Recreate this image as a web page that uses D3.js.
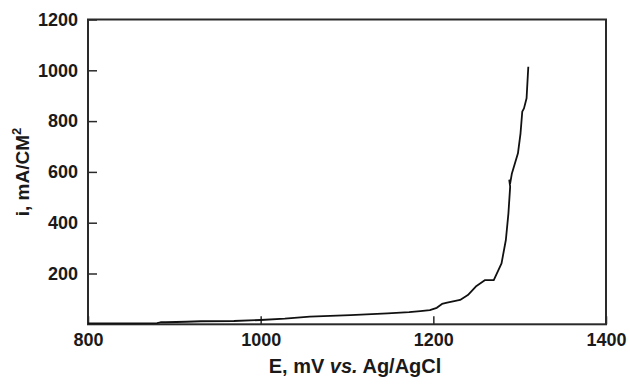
<!DOCTYPE html>
<html>
<head>
<meta charset="utf-8">
<script src="https://cdn.jsdelivr.net/npm/d3@7"></script>
<style>
  html, body { margin: 0; padding: 0; background: #fff; }
  svg { display: block; }
  text { font-family: "Liberation Sans", Arial, Helvetica, sans-serif; font-weight: bold; fill: #1a1a1a; }
</style>
</head>
<body>
<svg id="chart" width="630" height="385"></svg>
<script>
// Potential E (mV vs. Ag/AgCl)
const potential = [800, 850, 880, 884, 890, 914, 931, 969, 1000, 1028, 1057, 1104, 1147, 1172, 1185, 1196, 1204, 1210, 1216, 1231, 1240, 1250, 1260, 1270, 1279, 1284, 1287, 1289, 1288, 1289, 1291, 1298, 1301, 1303, 1305, 1308, 1310];
// Current density i (mA/cm²)
const current   = [4, 4, 5, 8, 8, 10, 12, 13, 17, 22, 30, 36, 43, 48, 52, 56, 65, 80, 85, 96, 115, 151, 174, 174, 240, 332, 438, 542, 567, 555, 594, 673, 752, 837, 850, 890, 1014];
const xTicks = [800, 1000, 1200, 1400];
const yTicks = [200, 400, 600, 800, 1000, 1200];

const svg = d3.select("#chart");
const L = 88, R = 606, T = 19.5, B = 324.3;
const x = d3.scaleLinear().domain([800, 1400]).range([L, R]);
const y = d3.scaleLinear().domain([0, 1200]).range([B, T]);

// frame
svg.append("rect")
  .attr("x", L).attr("y", T).attr("width", R - L).attr("height", B - T)
  .attr("fill", "none").attr("stroke", "#2a2a2a").attr("stroke-width", 2);

// x axis (ticks inward)
const xAxis = d3.axisBottom(x).tickValues(xTicks).tickSize(-8).tickPadding(9).tickFormat(d3.format("d"));
const gx = svg.append("g").attr("transform", `translate(0,${B})`).call(xAxis);
gx.select(".domain").remove();
gx.selectAll("line").attr("stroke", "#2a2a2a").attr("stroke-width", 1.5);
gx.selectAll("text").attr("font-size", 18).attr("fill", "#1a1a1a")
  .attr("font-family", "Liberation Sans, Arial, sans-serif").attr("font-weight", "bold");

// y axis (ticks inward)
const yAxis = d3.axisLeft(y).tickValues(yTicks).tickSize(-9).tickPadding(10).tickFormat(d3.format("d"));
const gy = svg.append("g").attr("transform", `translate(${L},0)`).call(yAxis);
gy.select(".domain").remove();
gy.selectAll("line").attr("stroke", "#2a2a2a").attr("stroke-width", 1.5);
gy.selectAll("text").attr("font-size", 18).attr("fill", "#1a1a1a")
  .attr("font-family", "Liberation Sans, Arial, sans-serif").attr("font-weight", "bold");

// curve
const pts = potential.map((p, i) => [p, current[i]]);
svg.append("path")
  .datum(pts)
  .attr("fill", "none").attr("stroke", "#111").attr("stroke-width", 1.8)
  .attr("stroke-linejoin", "round")
  .attr("d", d3.line().x(d => x(d[0])).y(d => y(d[1])).curve(d3.curveLinear));

// x title
const xt = svg.append("text").attr("x", 355).attr("y", 373).attr("text-anchor", "middle").attr("font-size", 20);
xt.append("tspan").text("E, mV ");
xt.append("tspan").attr("font-style", "italic").text("vs.");
xt.append("tspan").text(" Ag/AgCl");

// y title
const yt = svg.append("text").attr("transform", "translate(29,172) rotate(-90)").attr("text-anchor", "middle").attr("font-size", 19);
yt.append("tspan").text("i, mA/CM");
yt.append("tspan").attr("font-size", 13).attr("dy", -8).text("2");
</script>
</body>
</html>
